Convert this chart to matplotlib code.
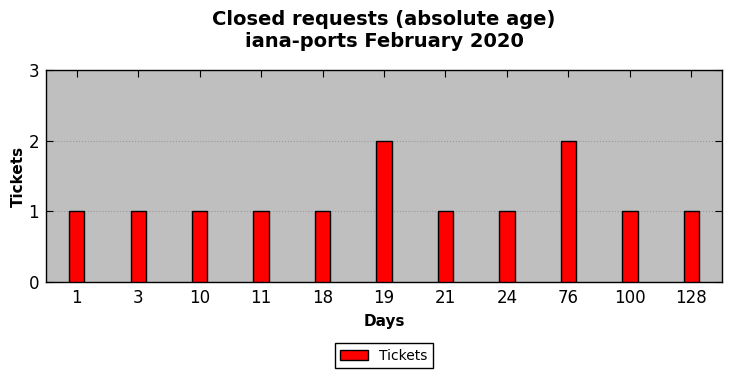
import matplotlib
matplotlib.use('Agg')
import matplotlib.pyplot as plt
import numpy as np

# Data
days = ['1', '3', '10', '11', '18', '19', '21', '24', '76', '100', '128']
tickets = [1, 1, 1, 1, 1, 2, 1, 1, 2, 1, 1]

fig = plt.figure(figsize=(7.31, 3.78), dpi=100)
ax = fig.add_axes([46/731, 1 - 282/378, 676/731, 212/378])
ax.set_facecolor('#bfbfbf')

x = np.arange(len(days))
ax.bar(x, tickets, width=0.25, color='red', edgecolor='black', linewidth=1, label='Tickets', zorder=3)

ax.set_xlim(-0.5, len(days) - 0.5)
ax.set_ylim(0, 3)
ax.set_yticks([0, 1, 2, 3])
ax.set_xticks(x)
ax.set_xticklabels(days)
ax.tick_params(direction='in', top=True, right=True, labelsize=12, length=5)
ax.tick_params(axis='x', pad=5)
ax.tick_params(axis='y', pad=5)
ax.yaxis.grid(True, linestyle=':', color='#999999', linewidth=0.8, zorder=0)
for s in ax.spines.values():
    s.set_linewidth(1)

ax.set_xlabel('Days', fontsize=11, fontweight='bold', labelpad=5)
ax.set_ylabel('Tickets', fontsize=11, fontweight='bold', labelpad=2)
# title centred over the axes, not the figure
ax.set_title('Closed requests (absolute age)\niana-ports February 2020', fontsize=14, fontweight='bold', pad=16.5)

ax.legend(loc='upper center', bbox_to_anchor=(0.5, -0.255), fontsize=10, frameon=True,
          fancybox=False, edgecolor='black', framealpha=1)

plt.savefig('out.png', dpi=100)
